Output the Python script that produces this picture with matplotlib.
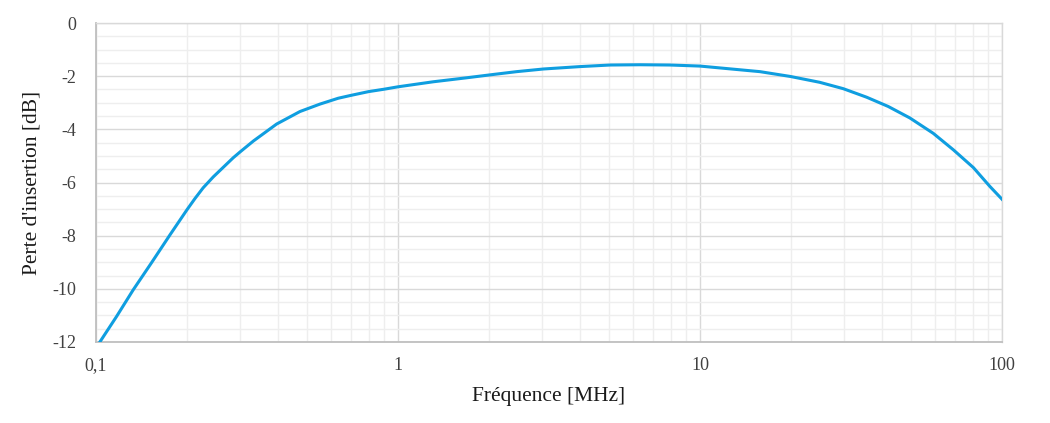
import matplotlib
matplotlib.use('Agg')
import matplotlib.pyplot as plt
import numpy as np

# values (frequency in MHz, loss in dB)
freq = [0.103, 0.117, 0.1328, 0.1529, 0.1758, 0.2, 0.2128, 0.2264, 0.2445,
        0.2847, 0.3, 0.332, 0.3965, 0.4736, 0.5517, 0.634, 0.7, 0.8, 0.9,
        1.0, 1.31, 1.69, 2.02, 2.47, 3.03, 4.0, 5.04, 6.33, 7.95, 10.0,
        15.8, 19.9, 24.9, 29.8, 35.6, 42.0, 49.5, 59.2, 69.0, 80.4, 91.2, 100.0]
loss = [-12.0, -11.04, -10.04, -9.01, -7.97, -7.03, -6.60, -6.20, -5.79,
        -5.07, -4.85, -4.44, -3.80, -3.33, -3.05, -2.83, -2.72, -2.58, -2.49,
        -2.40, -2.21, -2.06, -1.95, -1.83, -1.73, -1.64, -1.58, -1.57, -1.58, -1.62,
        -1.83, -2.01, -2.23, -2.47, -2.79, -3.14, -3.57, -4.15, -4.77, -5.44, -6.15, -6.63]

xticks = [0.1, 1, 10, 100]
xticklabels = ['0,1', '1', '10', '100']
yticks = [0, -2, -4, -6, -8, -10, -12]

plt.rcParams['font.family'] = ['Liberation Serif', 'DejaVu Serif']
plt.rcParams['axes.unicode_minus'] = False

fig = plt.figure(figsize=(10.5, 4.23), dpi=100)
ax = fig.add_axes([0.0914, 0.1915, 0.8629, 0.7541])

ax.plot(freq, loss, color='#0f9ee0', lw=2.2, solid_joinstyle='round', zorder=3)

ax.set_xscale('log')
ax.set_xlim(0.1, 100)
ax.set_ylim(-12, 0)

ax.set_xticks(xticks)
ax.set_xticklabels(xticklabels)
ax.xaxis.set_minor_locator(matplotlib.ticker.LogLocator(base=10, subs=np.arange(2, 10)))
ax.xaxis.set_minor_formatter(matplotlib.ticker.NullFormatter())
ax.set_yticks(yticks)
ax.set_yticks(np.arange(-12, 0.01, 0.5), minor=True)

ax.grid(which='major', color='#d9d9d9', lw=1.0)
ax.grid(which='minor', color='#eeeeee', lw=1.0)
ax.set_axisbelow(True)

ax.tick_params(which='both', length=0, labelsize=13, colors='#404040')
ax.tick_params(axis='y', pad=14)
ax.tick_params(axis='x', pad=11)

for s in ['top', 'right']:
    ax.spines[s].set_color('#d9d9d9')
    ax.spines[s].set_linewidth(1.0)
for s in ['left', 'bottom']:
    ax.spines[s].set_color('#bfbfbf')
    ax.spines[s].set_linewidth(1.3)

ax.set_xlabel('Fréquence [MHz]', fontsize=15.5, color='#1a1a1a', labelpad=9)
ax.set_ylabel("Perte d'insertion [dB]", fontsize=15.5, color='#1a1a1a', labelpad=8)

fig.savefig('out.png', dpi=100)
